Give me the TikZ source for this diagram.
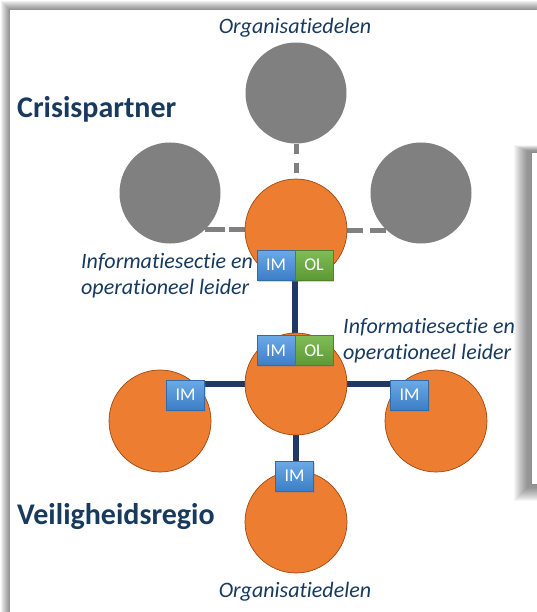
\documentclass[tikz,border=0pt]{standalone}
\usepackage{fontspec}
\setmainfont[Ligatures={NoCommon}]{Carlito}
\usetikzlibrary{shadows}
\definecolor{orng}{HTML}{ED7D31}
\definecolor{orngline}{HTML}{9C4A14}
\definecolor{grayc}{HTML}{808080}
\definecolor{navy}{HTML}{1F3864}
\definecolor{txt}{HTML}{173A5E}
\definecolor{imtop}{HTML}{6CAAE6}
\definecolor{imbot}{HTML}{3C7EC6}
\definecolor{oltop}{HTML}{80BD56}
\definecolor{olbot}{HTML}{5C9935}
\pgfdeclarelayer{frame}
\pgfdeclarelayer{lines}
\pgfsetlayers{frame,lines,main}
\begin{document}
\begin{tikzpicture}[x=1pt,y=-1pt,
  orange/.style={circle,fill=orng,draw=orngline,line width=0.7pt,minimum size=102pt,inner sep=0pt},
  grey/.style={circle,fill=grayc,minimum size=101pt,inner sep=0pt},
  tag/.style={rectangle,minimum width=38pt,minimum height=30pt,inner sep=0pt,text=white,
    font=\fontsize{18}{18}\selectfont,
    drop shadow={shadow xshift=1pt,shadow yshift=-1.5pt,opacity=0.3}},
  imtag/.style={tag,top color=imtop,bottom color=imbot,draw=imbot!85!black,line width=0.3pt},
  oltag/.style={tag,top color=oltop,bottom color=olbot,draw=olbot!85!black,line width=0.3pt},
  dashline/.style={draw=grayc,line width=5pt},
  navyline/.style={draw=navy,line width=5.5pt},
  title/.style={font=\fontsize{30}{30}\selectfont\bfseries,text=txt,inner sep=0pt,anchor=base west},
  italic/.style={font=\fontsize{22}{26}\selectfont\itshape,text=txt,inner sep=0pt}]

\useasboundingbox (0,0) rectangle (536,612);

\begin{pgfonlayer}{frame}
  \fill[white] (0,0) rectangle (536,612);
  \foreach \i in {9,...,1} \fill[black,opacity=0.055] (10-\i,10-\i) rectangle (600,700);
  \fill[white] (10,10) rectangle (600,700);
  \foreach \i in {14,...,1} \fill[black,opacity=0.035] (528-\i,151-0.4*\i) rectangle (600,487+\i);
  \fill[white] (531,152) rectangle (600,484);
  \draw[black!45,line width=0.6pt] (600,152) -- (531,152) -- (531,484) -- (600,484);
\end{pgfonlayer}

% circles
\node[grey] (gt) at (296,93) {};
\node[grey] (gl) at (170,193) {};
\node[grey] (gr) at (421,193) {};
\node[orange] (o1) at (296,230) {};
\node[orange] (o2) at (296,384) {};
\node[orange] (oL) at (160,421) {};
\node[orange] (oR) at (436,421) {};
\node[orange] (ob) at (296,522) {};

% tags
\node[imtag] (im1) at (276,265) {IM};
\node[oltag] (ol1) at (314,265) {OL};
\node[imtag] (im2) at (276,350.5) {IM};
\node[oltag] (ol2) at (314,350.5) {OL};
\node[imtag] (imL) at (185.5,395) {IM};
\node[imtag] (imR) at (409.5,395) {IM};
\node[imtag] (imB) at (294.5,476) {IM};

% connectors
\begin{pgfonlayer}{lines}
  \draw[dashline,dash pattern=on 10pt off 9pt] (gt.south) -- (o1.north);
  \draw[dashline,dash pattern=on 20pt off 4pt] (gl.-46) -- (gl.-46 -| o1);
  \draw[dashline,dash pattern=on 16pt off 7pt] (o1.east) -- (o1.east -| gr);
  \draw[navyline] (im1.south east) -- (im2.north east);
  \draw[navyline] (o2) -- (o2 -| oL);
  \draw[navyline] (o2) -- (o2 -| oR);
  \draw[navyline] (o2) -- (ob);
\end{pgfonlayer}

% texts
\node[title] (crisis) at (17,118) {Crisispartner};
\node[title] (veilig) at (17,524) {Veiligheidsregio};
\node[italic,anchor=base] (orgtop) at (295,34) {Organisatiedelen};
\node[italic,anchor=base] (orgbot) at (295,597) {Organisatiedelen};
\node[italic,align=left,anchor=base west] (info1) at (81,294) {Informatiesectie en\\operationeel leider};
\node[italic,align=left,anchor=base west] (info2) at (343,359) {Informatiesectie en\\operationeel leider};
\end{tikzpicture}
\end{document}
